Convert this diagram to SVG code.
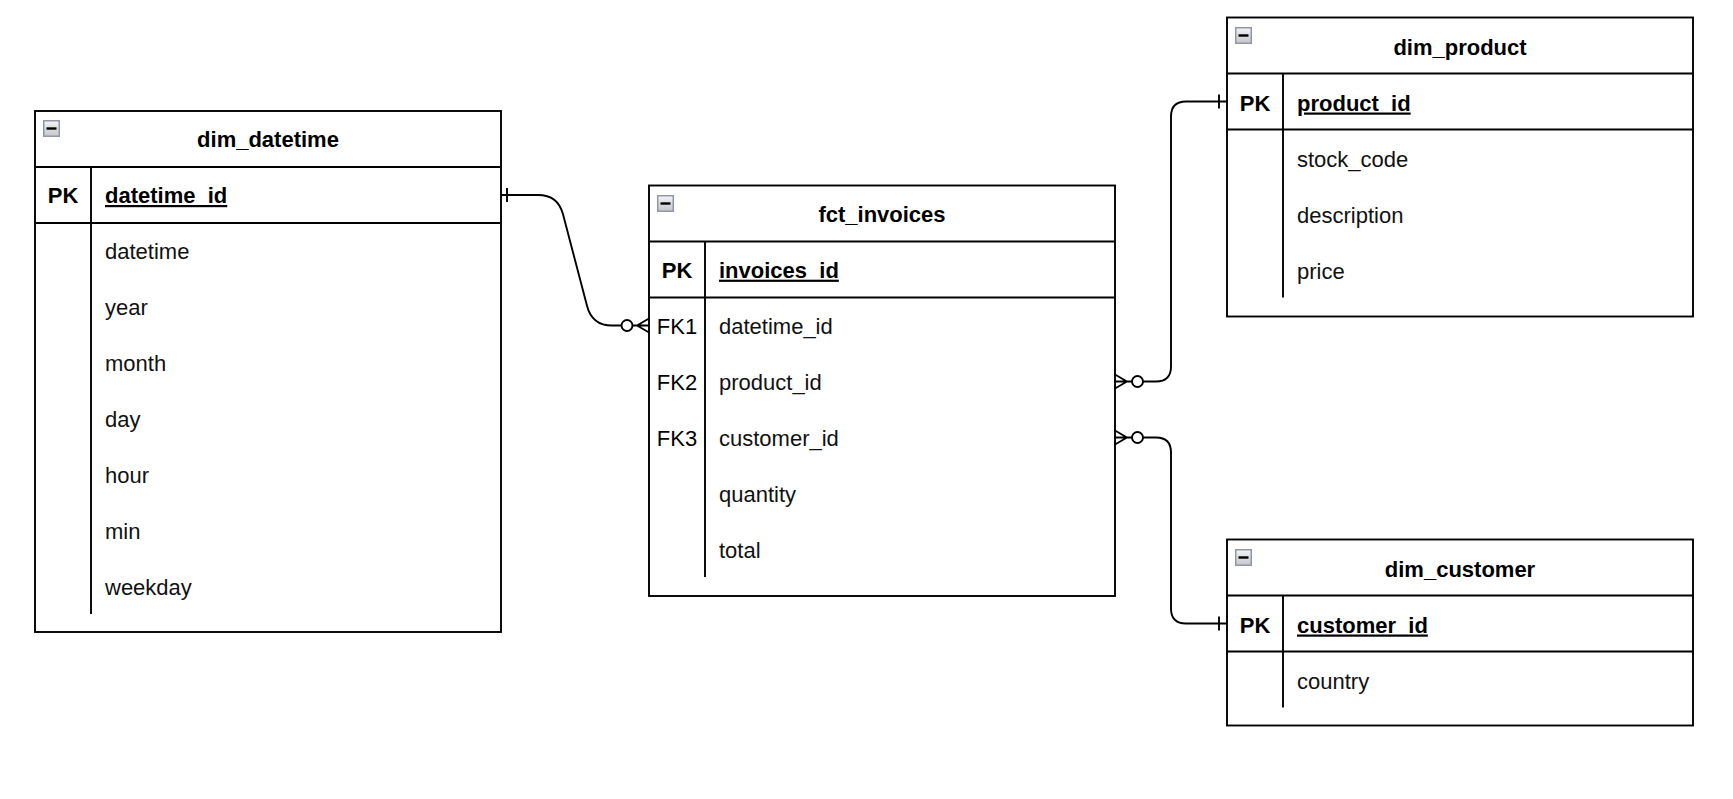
<svg xmlns="http://www.w3.org/2000/svg" width="1733" height="799" viewBox="0 0 1733 799">
  <style>
    .tbl { fill: #ffffff; stroke: #000000; stroke-width: 1.9; }
    .ln { fill: none; stroke: #000000; stroke-width: 1.9; }
    .edge { fill: none; stroke: #000000; stroke-width: 1.9; }
    .dot { fill: #ffffff; stroke: #000000; stroke-width: 1.9; }
    .title { font-family: "Liberation Sans", Arial, sans-serif; font-size: 22px; font-weight: bold; text-anchor: middle; fill: #000; }
    .key { font-family: "Liberation Sans", Arial, sans-serif; font-size: 22px; text-anchor: middle; fill: #000; }
    .pk { font-weight: bold; }
    .fld { font-family: "Liberation Sans", Arial, sans-serif; font-size: 22px; fill: #111; }
    .pkname { font-weight: bold; text-decoration: underline; fill: #000; }
  </style>
  <defs>
    <linearGradient id="iconFill" x1="0" y1="0" x2="0" y2="1">
      <stop offset="0" stop-color="#f4f4f6"/>
      <stop offset="1" stop-color="#c4c6cc"/>
    </linearGradient>
    <!-- collapse toggle shown in each table header -->
    <g id="collapse">
      <rect x="0.75" y="0.75" width="15.5" height="15.5" fill="url(#iconFill)" stroke="#9196a8" stroke-width="1.5"/>
      <rect x="3.5" y="7.3" width="10" height="2.4" fill="#000"/>
    </g>
  </defs>

  <rect width="1733" height="799" fill="#ffffff"/>

  <!-- dim_datetime -->
  <g id="dim_datetime">
    <rect class="tbl" x="35" y="111" width="466" height="521"/>
    <line class="ln" x1="35" y1="167" x2="501" y2="167"/>
    <line class="ln" x1="35" y1="223" x2="501" y2="223"/>
    <line class="ln" x1="91" y1="167" x2="91" y2="614"/>
    <use href="#collapse" x="43" y="120"/>
    <text class="title" x="268" y="147">dim_datetime</text>
    <text class="key pk" x="63" y="203">PK</text>
    <text class="fld pkname" x="105" y="203">datetime_id</text>
    <text class="fld" x="105" y="259">datetime</text>
    <text class="fld" x="105" y="315">year</text>
    <text class="fld" x="105" y="371">month</text>
    <text class="fld" x="105" y="427">day</text>
    <text class="fld" x="105" y="483">hour</text>
    <text class="fld" x="105" y="539">min</text>
    <text class="fld" x="105" y="595">weekday</text>
  </g>

  <!-- fct_invoices -->
  <g id="fct_invoices">
    <rect class="tbl" x="649" y="185.5" width="466" height="410.5"/>
    <line class="ln" x1="649" y1="241.5" x2="1115" y2="241.5"/>
    <line class="ln" x1="649" y1="297.5" x2="1115" y2="297.5"/>
    <line class="ln" x1="705" y1="241.5" x2="705" y2="577"/>
    <use href="#collapse" x="657" y="195"/>
    <text class="title" x="882" y="221.7">fct_invoices</text>
    <text class="key pk" x="677" y="277.7">PK</text>
    <text class="fld pkname" x="719" y="277.7">invoices_id</text>
    <text class="key" x="677" y="333.7">FK1</text>
    <text class="fld" x="719" y="333.7">datetime_id</text>
    <text class="key" x="677" y="389.7">FK2</text>
    <text class="fld" x="719" y="389.7">product_id</text>
    <text class="key" x="677" y="445.7">FK3</text>
    <text class="fld" x="719" y="445.7">customer_id</text>
    <text class="fld" x="719" y="501.7">quantity</text>
    <text class="fld" x="719" y="557.7">total</text>
  </g>

  <!-- dim_product -->
  <g id="dim_product">
    <rect class="tbl" x="1227" y="17.5" width="466" height="299"/>
    <line class="ln" x1="1227" y1="73.5" x2="1693" y2="73.5"/>
    <line class="ln" x1="1227" y1="129.5" x2="1693" y2="129.5"/>
    <line class="ln" x1="1283" y1="73.5" x2="1283" y2="297.5"/>
    <use href="#collapse" x="1235" y="27"/>
    <text class="title" x="1460" y="54.5">dim_product</text>
    <text class="key pk" x="1255" y="110.5">PK</text>
    <text class="fld pkname" x="1297" y="110.5">product_id</text>
    <text class="fld" x="1297" y="166.5">stock_code</text>
    <text class="fld" x="1297" y="222.5">description</text>
    <text class="fld" x="1297" y="278.5">price</text>
  </g>

  <!-- dim_customer -->
  <g id="dim_customer">
    <rect class="tbl" x="1227" y="539.5" width="466" height="186"/>
    <line class="ln" x1="1227" y1="595.5" x2="1693" y2="595.5"/>
    <line class="ln" x1="1227" y1="651.5" x2="1693" y2="651.5"/>
    <line class="ln" x1="1283" y1="595.5" x2="1283" y2="707.5"/>
    <use href="#collapse" x="1235" y="549"/>
    <text class="title" x="1460" y="576.5">dim_customer</text>
    <text class="key pk" x="1255" y="632.5">PK</text>
    <text class="fld pkname" x="1297" y="632.5">customer_id</text>
    <text class="fld" x="1297" y="688.5">country</text>
  </g>

  <!-- relationships: one (bar) to zero-or-many (circle + crow's foot) -->
  <g id="connectors">
    <!-- dim_datetime.datetime_id -> fct_invoices.datetime_id -->
    <g id="rel_datetime">
      <path class="edge" d="M501,195 H538 Q558,195 563,214.3 L587,305.7 Q592,325.5 612,325.5 H621.5"/>
      <line class="edge" x1="507" y1="188" x2="507" y2="202"/>
      <circle class="dot" cx="627" cy="325.5" r="5.5"/>
      <path class="edge" d="M632.5,325.5 H649 M637,325.5 L649,318.5 M637,325.5 L649,332.5"/>
    </g>
    <!-- dim_product.product_id -> fct_invoices.product_id -->
    <g id="rel_product">
      <path class="edge" d="M1143,381.5 H1156 Q1171,381.5 1171,366.5 V116.5 Q1171,101.5 1186,101.5 H1227"/>
      <line class="edge" x1="1219" y1="94.5" x2="1219" y2="108.5"/>
      <circle class="dot" cx="1137.5" cy="381.5" r="5.5"/>
      <path class="edge" d="M1132,381.5 H1115 M1127,381.5 L1115,374.5 M1127,381.5 L1115,388.5"/>
    </g>
    <!-- dim_customer.customer_id -> fct_invoices.customer_id -->
    <g id="rel_customer">
      <path class="edge" d="M1143,437.5 H1156 Q1171,437.5 1171,452.5 V608.5 Q1171,623.5 1186,623.5 H1227"/>
      <line class="edge" x1="1219" y1="616.5" x2="1219" y2="630.5"/>
      <circle class="dot" cx="1137.5" cy="437.5" r="5.5"/>
      <path class="edge" d="M1132,437.5 H1115 M1127,437.5 L1115,430.5 M1127,437.5 L1115,444.5"/>
    </g>
  </g>
</svg>
